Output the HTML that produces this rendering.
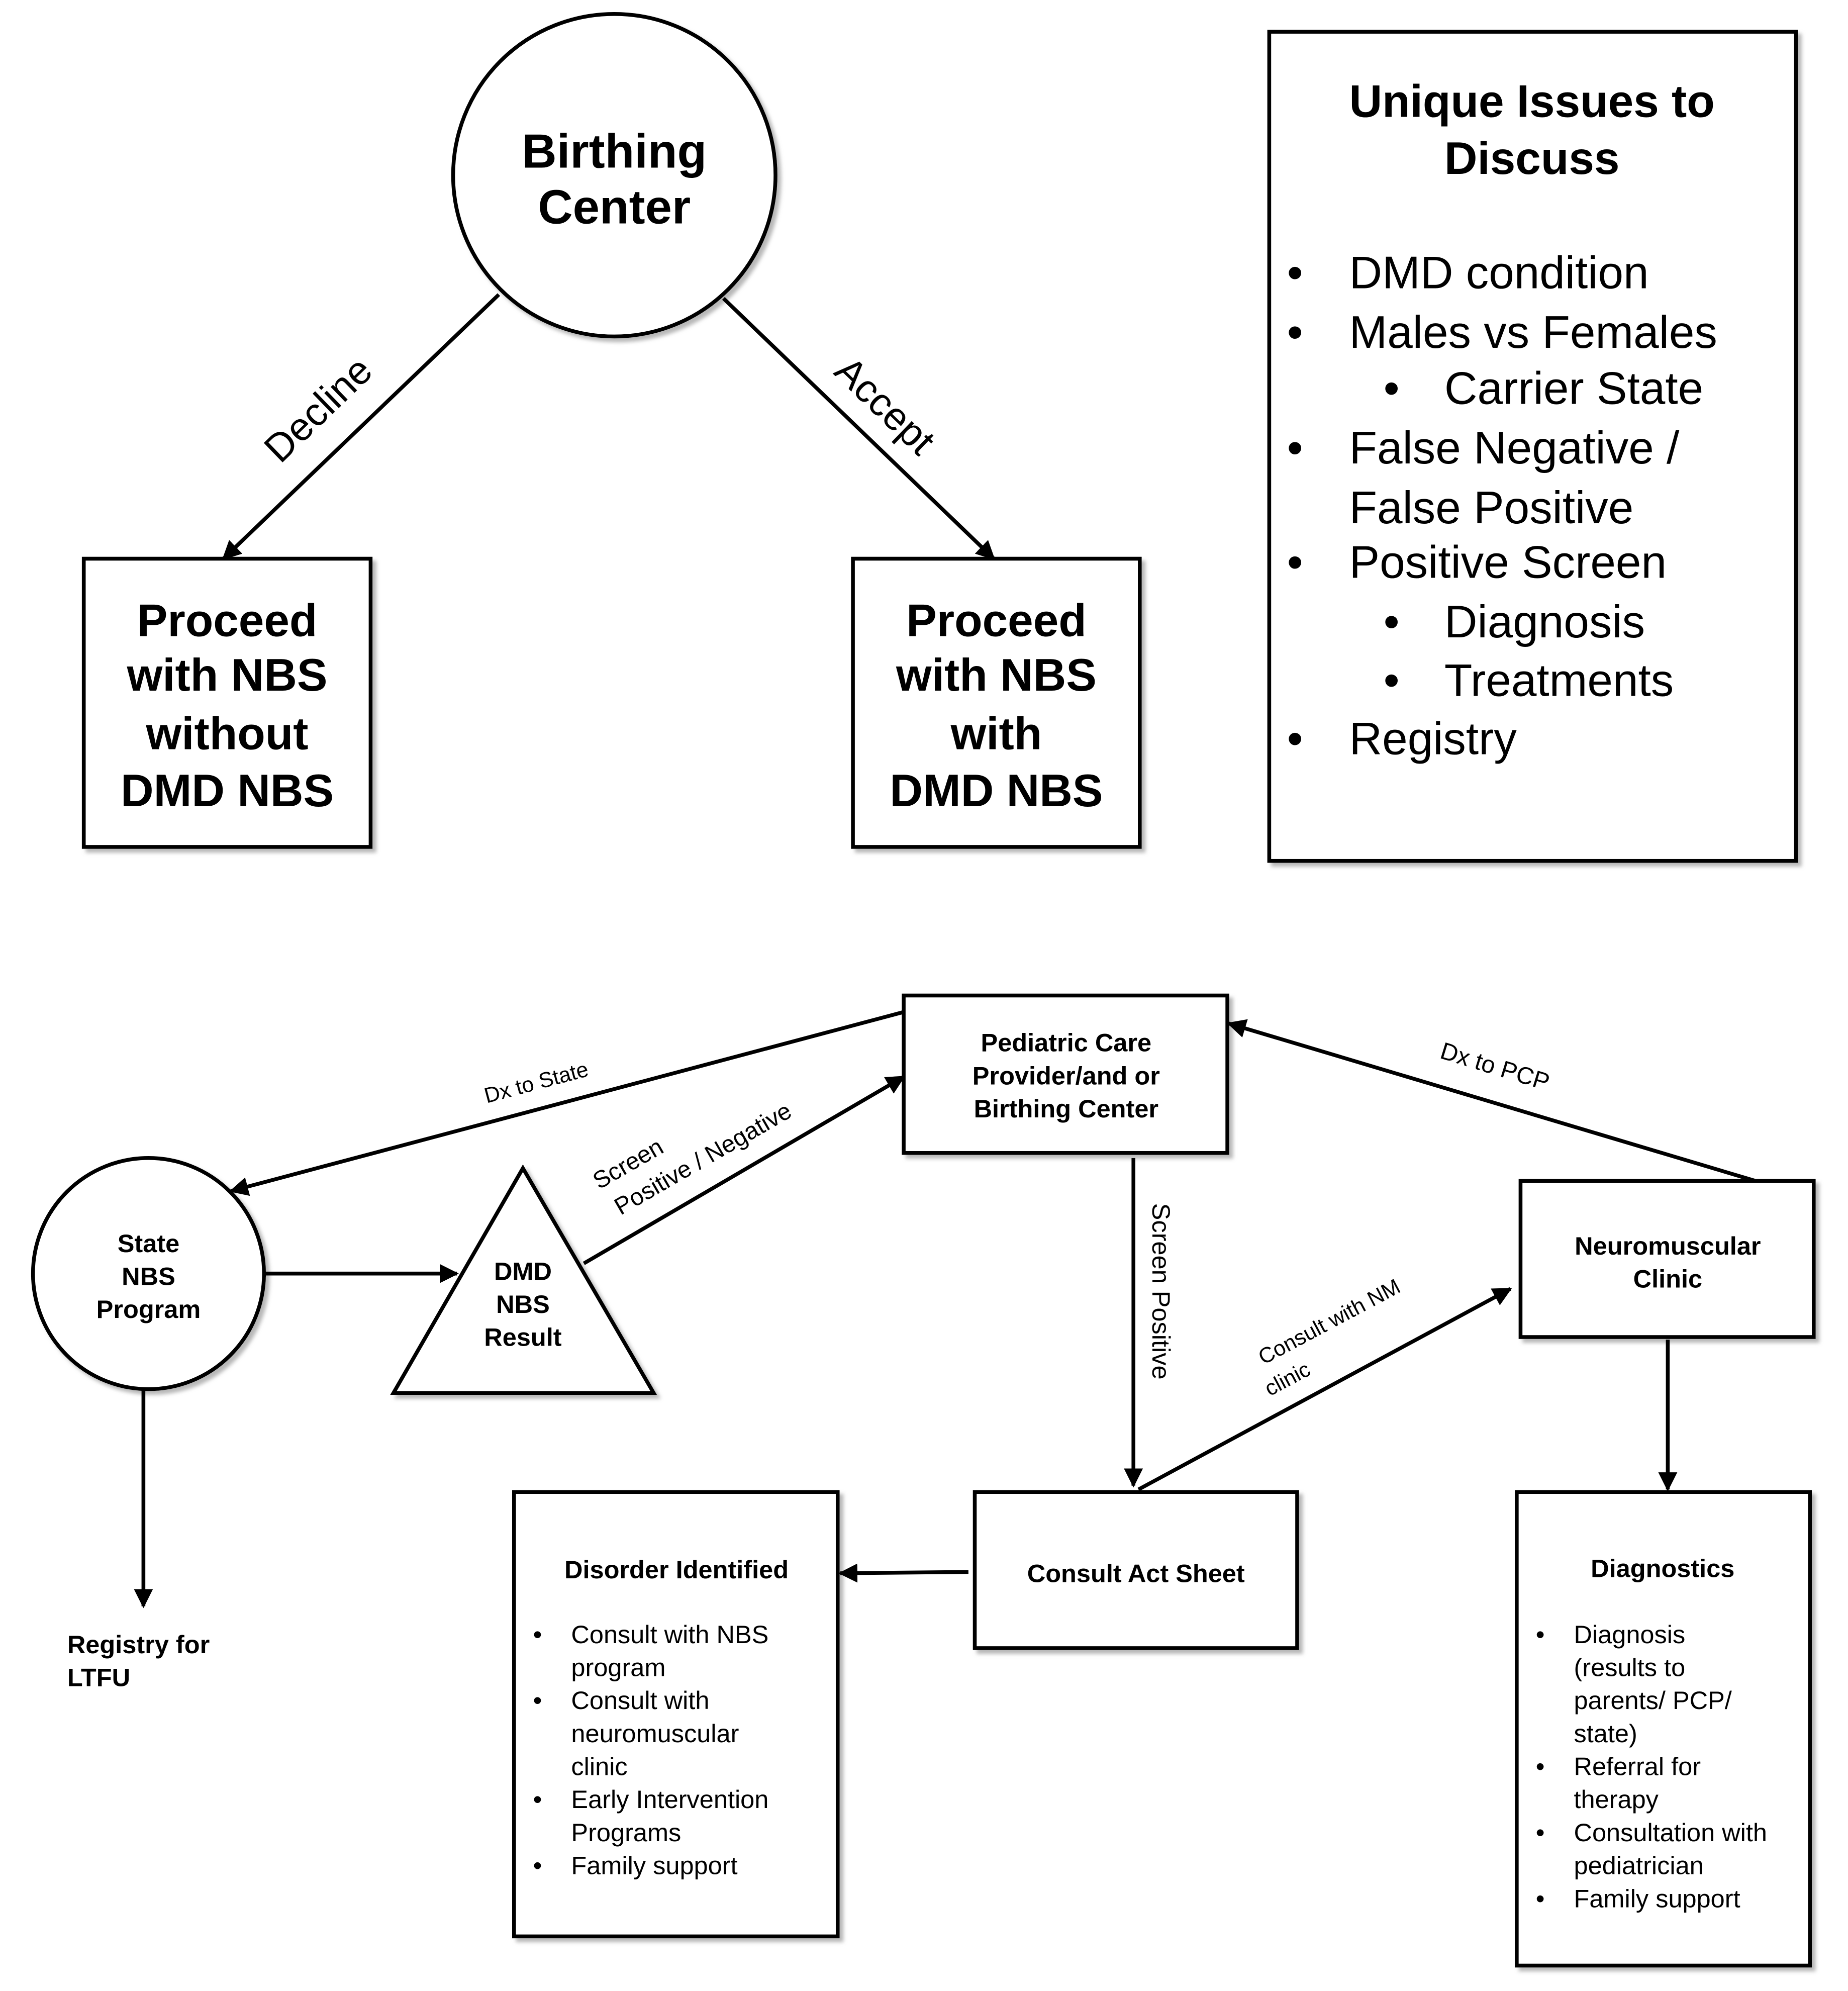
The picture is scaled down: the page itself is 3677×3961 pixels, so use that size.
<!DOCTYPE html>
<html><head><meta charset="utf-8"><style>
html,body{margin:0;padding:0;background:#fff}
svg{display:block}
text{font-family:"Liberation Sans",Arial,sans-serif;fill:#000}
</style></head><body>
<svg width="3677" height="3961" viewBox="0 0 1456 1568" preserveAspectRatio="none" xmlns="http://www.w3.org/2000/svg">
<defs>
<marker id="ah" viewBox="0 0 10 10" refX="9" refY="5" markerWidth="5" markerHeight="5" orient="auto-start-reverse"><path d="M0,0 L10,5 L0,10 z" fill="#000"/></marker>
<filter id="sh" x="-10%" y="-10%" width="130%" height="130%"><feDropShadow dx="3" dy="3" stdDeviation="1.5" flood-color="#888" flood-opacity="0.6"/></filter>
</defs>
<g fill="#fff" stroke="#000" stroke-width="3" filter="url(#sh)">
<circle cx="484" cy="138" r="127"/>
<rect x="66" y="440" width="226" height="227"/>
<rect x="672" y="440" width="226" height="227"/>
<rect x="1000" y="25" width="415" height="653"/>
<rect x="712" y="784" width="255" height="124"/>
<circle cx="117" cy="1003" r="91"/>
<polygon points="412,920 310,1097 515,1097"/>
<rect x="1198" y="930" width="231" height="123"/>
<rect x="768" y="1175" width="254" height="123"/>
<rect x="405" y="1175" width="255" height="350"/>
<rect x="1195" y="1175" width="231" height="373"/>
</g>
<g stroke="#000" stroke-width="3" fill="none" marker-end="url(#ah)">
<line x1="393" y1="232" x2="176" y2="440"/>
<line x1="570" y1="235" x2="783" y2="440"/>
<line x1="712" y1="797" x2="182" y2="938"/>
<line x1="460" y1="995" x2="712" y2="848"/>
<line x1="1383" y1="930" x2="968" y2="806"/>
<line x1="208" y1="1003" x2="360" y2="1003"/>
<line x1="893" y1="912" x2="893" y2="1170"/>
<line x1="897" y1="1173" x2="1190" y2="1015"/>
<line x1="1314" y1="1055" x2="1314" y2="1173"/>
<line x1="763" y1="1238" x2="662" y2="1239"/>
<line x1="113" y1="1095" x2="113" y2="1265"/>
</g>
<g text-anchor="middle">
<text x="484" y="132" font-size="38" font-weight="bold">Birthing</text>
<text x="484" y="176" font-size="38" font-weight="bold">Center</text>
<g font-size="36" font-weight="bold">
<text x="179" y="501">Proceed</text><text x="179" y="544">with NBS</text><text x="179" y="590">without</text><text x="179" y="635">DMD NBS</text>
<text x="785" y="501">Proceed</text><text x="785" y="544">with NBS</text><text x="785" y="590">with</text><text x="785" y="635">DMD NBS</text>
<text x="1207" y="92">Unique Issues to</text><text x="1207" y="137">Discuss</text>
</g>
<g font-size="20" font-weight="bold">
<text x="840" y="828">Pediatric Care</text><text x="840" y="854">Provider/and or</text><text x="840" y="880">Birthing Center</text>
<text x="117" y="986">State</text><text x="117" y="1012">NBS</text><text x="117" y="1038">Program</text>
<text x="412" y="1008">DMD</text><text x="412" y="1034">NBS</text><text x="412" y="1060">Result</text>
<text x="1314" y="988">Neuromuscular</text><text x="1314" y="1014">Clinic</text>
<text x="895" y="1246">Consult Act Sheet</text>
<text x="533" y="1243">Disorder Identified</text>
<text x="1310" y="1242">Diagnostics</text>
</g>
</g>
<g font-size="20" font-weight="bold"><text x="53" y="1302">Registry for</text><text x="53" y="1328">LTFU</text></g>
<g font-size="36">
<text x="1014" y="227">•</text><text x="1063" y="227">DMD condition</text>
<text x="1014" y="274">•</text><text x="1063" y="274">Males vs Females</text>
<text x="1090" y="318">•</text><text x="1138" y="318">Carrier State</text>
<text x="1014" y="365">•</text><text x="1063" y="365">False Negative /</text>
<text x="1063" y="412">False Positive</text>
<text x="1014" y="455">•</text><text x="1063" y="455">Positive Screen</text>
<text x="1090" y="502">•</text><text x="1138" y="502">Diagnosis</text>
<text x="1090" y="548">•</text><text x="1138" y="548">Treatments</text>
<text x="1014" y="594">•</text><text x="1063" y="594">Registry</text>
</g>
<g font-size="20">
<text x="420" y="1294">•</text><text x="450" y="1294">Consult with NBS</text>
<text x="450" y="1320">program</text>
<text x="420" y="1346">•</text><text x="450" y="1346">Consult with</text>
<text x="450" y="1372">neuromuscular</text>
<text x="450" y="1398">clinic</text>
<text x="420" y="1424">•</text><text x="450" y="1424">Early Intervention</text>
<text x="450" y="1450">Programs</text>
<text x="420" y="1476">•</text><text x="450" y="1476">Family support</text>
<text x="1210" y="1294">•</text><text x="1240" y="1294">Diagnosis</text>
<text x="1240" y="1320">(results to</text>
<text x="1240" y="1346">parents/ PCP/</text>
<text x="1240" y="1372">state)</text>
<text x="1210" y="1398">•</text><text x="1240" y="1398">Referral for</text>
<text x="1240" y="1424">therapy</text>
<text x="1210" y="1450">•</text><text x="1240" y="1450">Consultation with</text>
<text x="1240" y="1476">pediatrician</text>
<text x="1210" y="1502">•</text><text x="1240" y="1502">Family support</text>
</g>
<g text-anchor="middle">
<text font-size="31" transform="translate(258,330) rotate(-44)">Decline</text>
<text font-size="31" transform="translate(690,327) rotate(44)">Accept</text>
<text font-size="17" transform="translate(424,858) rotate(-15)">Dx to State</text>
<text font-size="19" transform="translate(498,922) rotate(-30)">Screen</text>
<text font-size="19" transform="translate(557,918) rotate(-30)">Positive / Negative</text>
<text font-size="19" transform="translate(1176,846) rotate(17)">Dx to PCP</text>
<text font-size="20" transform="translate(908,1017) rotate(90)">Screen Positive</text>
<text font-size="17" transform="translate(1050,1046) rotate(-28)">Consult with NM</text>
<text font-size="17" transform="translate(1017,1091) rotate(-28)">clinic</text>
</g>
</svg>
</body></html>
